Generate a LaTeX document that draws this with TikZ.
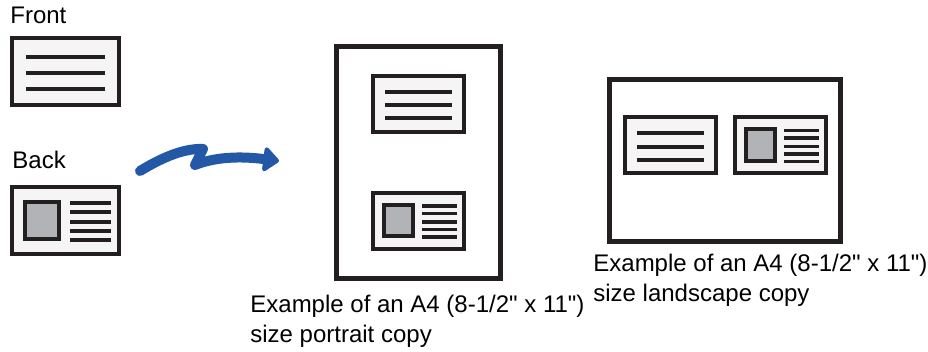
\documentclass[tikz,border=0pt]{standalone}
\usepackage{fontspec}
\setmainfont{Liberation Sans}
\usepackage{tikz}
\usetikzlibrary{arrows.meta}
\usepackage{xcolor}
\definecolor{ink}{HTML}{231F20}
\definecolor{paper}{HTML}{F5F5F5}
\definecolor{photogray}{HTML}{B1B3B6}
\definecolor{arrowblue}{HTML}{2358A6}

\tikzset{
  page/.style={draw=ink,line width=2.5pt,fill=white,inner sep=0pt},
  card/.style={draw=ink,line width=2pt,fill=paper},
  photo/.style={draw=ink,line width=2pt,fill=photogray},
  textline/.style={draw=ink,line width=2pt},
  photoline/.style={draw=ink,line width=1.7pt},
  label/.style={inner sep=0pt,font=\fontsize{12pt}{15pt}\selectfont,align=left},
  textcard/.pic={
    \draw[card] (-45.5,-28) rectangle (45.5,28);
    \foreach \y in {-12,1.2,14.3} \draw[textline] (-33.5,\y) -- (33.5,\y);
  },
  photocard/.pic={
    \draw[card] (-45.5,-28) rectangle (45.5,28);
    \draw[photo] (-34.5,-16) rectangle (-5.5,15.5);
    \foreach \y in {-15,-7.5,1,8.5,16} \draw[photoline] (3.5,\y) -- (38.5,\y);
  }
}

\begin{document}
\begin{tikzpicture}[x=0.5pt,y=-0.5pt]
\useasboundingbox (0,0) rectangle (928,352);

% originals
\node[label,anchor=base west] (fronttxt) at (10,24) {Front};
\pic[xscale=1.18,yscale=1.195] (front) at (65.2,71.8) {textcard};
\node[label,anchor=base west] (backtxt) at (12,169) {Back};
\pic[xscale=1.18,yscale=1.195] (back) at (65.7,220.8) {photocard};

% portrait copy
\node[page,minimum width=82pt,minimum height=116pt] (portrait) at (418.5,162.5) {};
\pic (pfront) at (418.5,104) {textcard};
\pic (pback) at (418.5,221) {photocard};
\node[label,anchor=base west] (portraittxt) at (250,343)
  {Example of an A4 (8-1/2\textquotedbl{} x 11\textquotedbl)\\size portrait copy};

% landscape copy
\node[page,minimum width=115.5pt,minimum height=81pt] (landscape) at (725,160.5) {};
\pic (lfront) at (670,145.5) {textcard};
\pic (lback) at (780,145.5) {photocard};
\node[label,anchor=base west] (landscapetxt) at (593,302)
  {Example of an A4 (8-1/2\textquotedbl{} x 11\textquotedbl)\\size landscape copy};

% arrow
\coordinate (from) at (140,171);
\coordinate (to) at (279,161);
\draw[arrowblue,line width=5pt,line cap=round,line join=round,-{Triangle[length=8.5pt,width=14pt,round]}]
  (from) .. controls (158,160) and (182,148) .. (203,149) -- (195,165)
  .. controls (215,157) and (240,156) .. (to);
\end{tikzpicture}
\end{document}
